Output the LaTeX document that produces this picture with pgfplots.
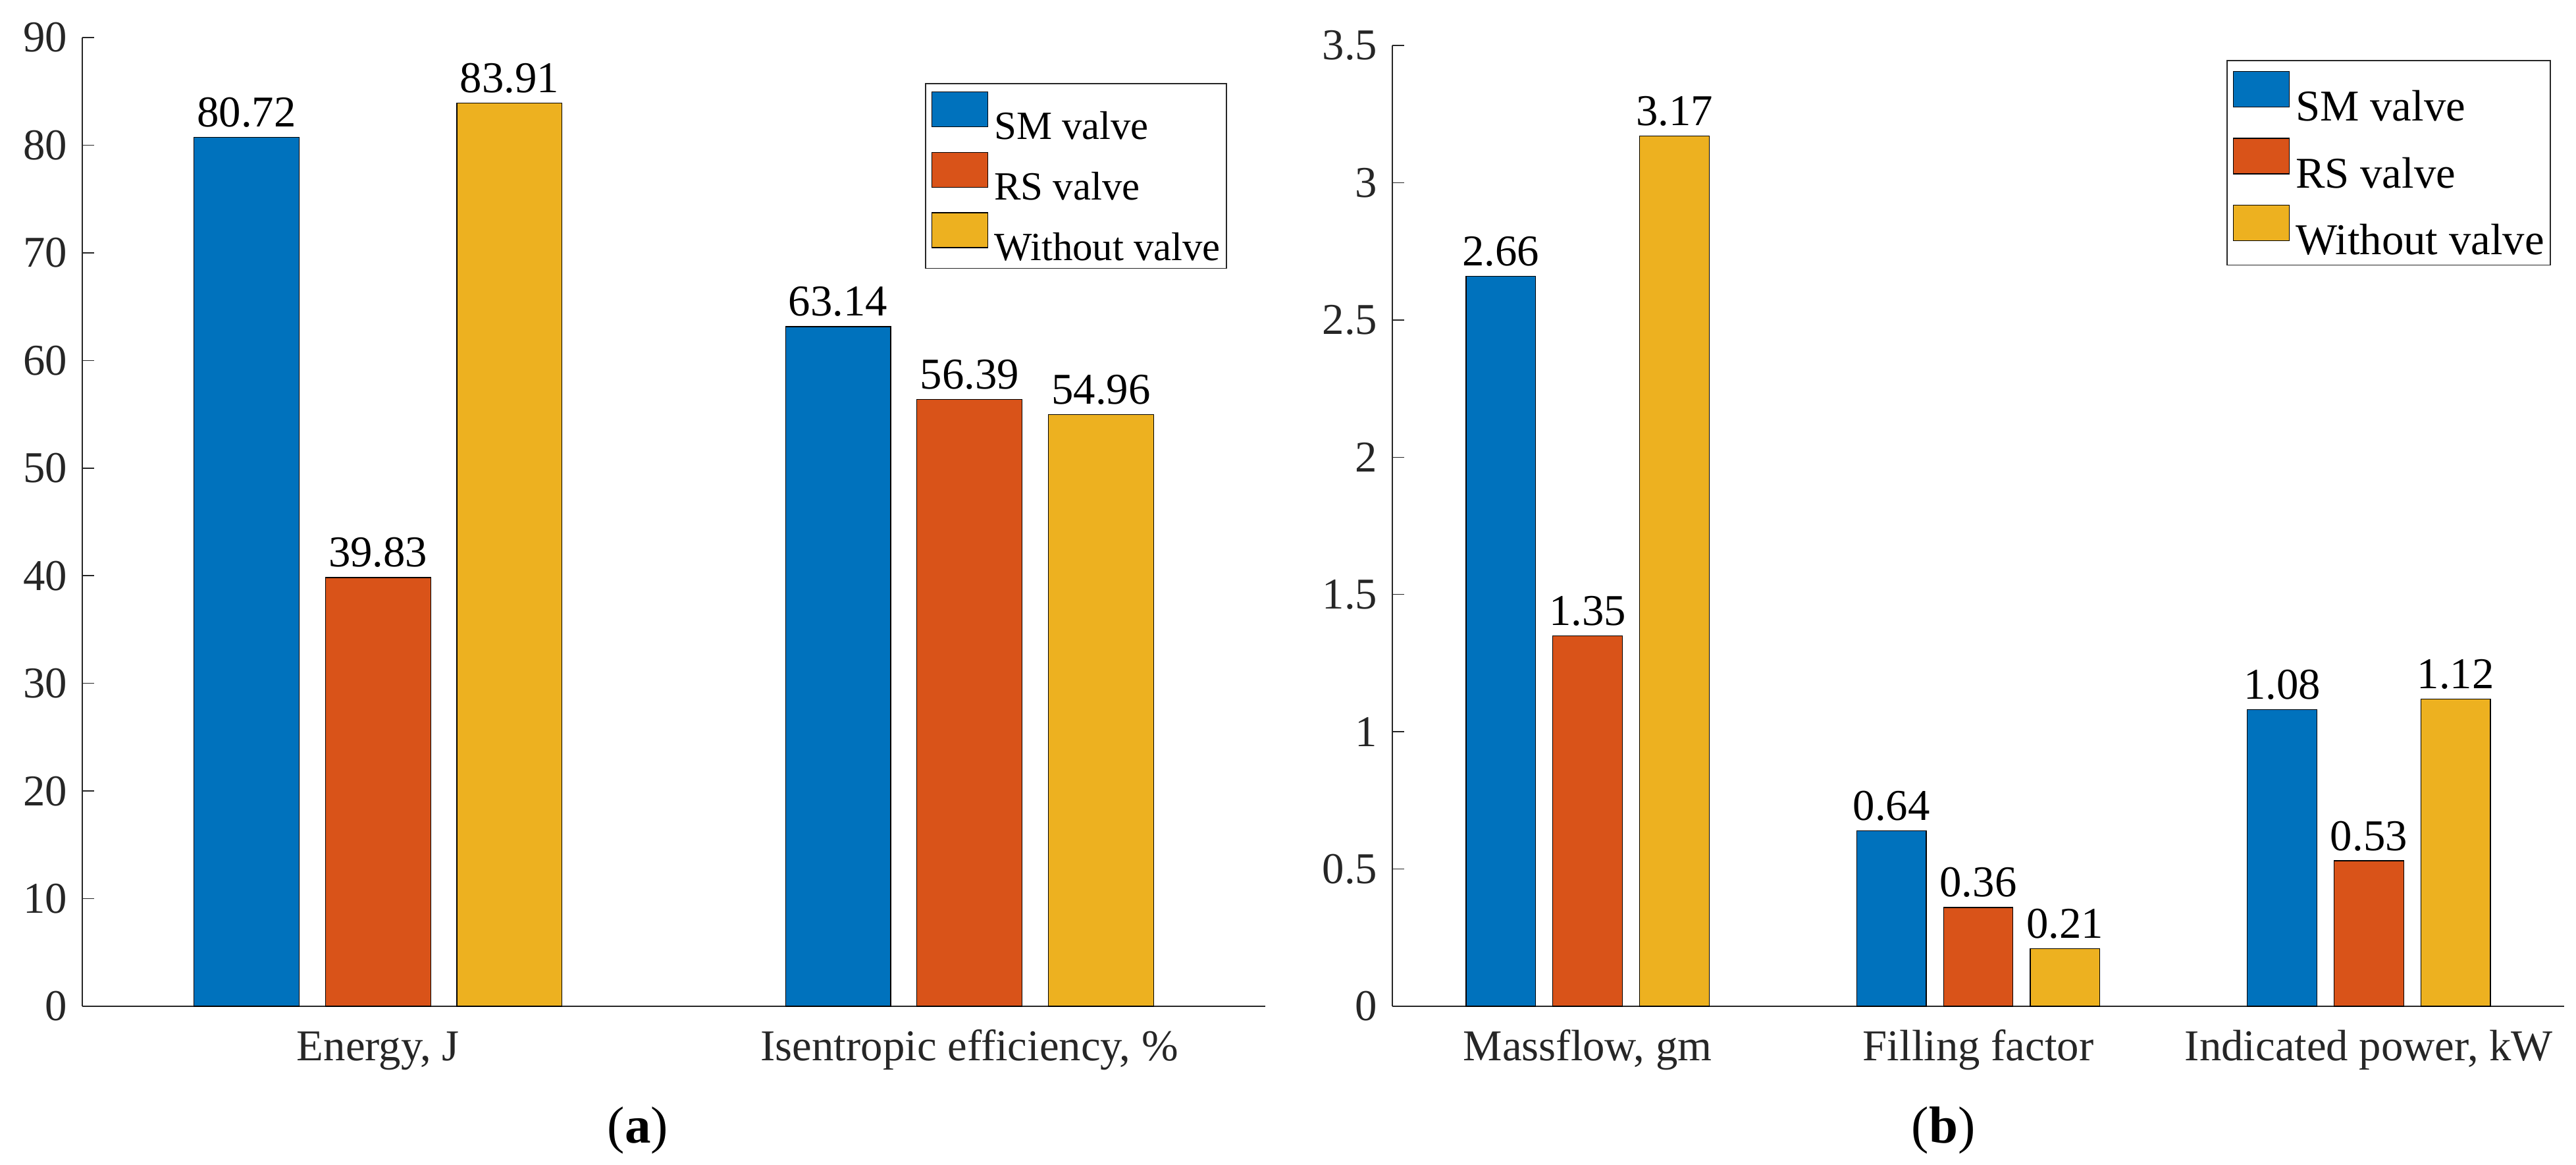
\documentclass[border=0pt]{standalone}
\usepackage{fontspec}
\setmainfont{Liberation Serif}
\usepackage{pgfplots}
\pgfplotsset{compat=1.18}
\definecolor{cA}{HTML}{0072BD}
\definecolor{cB}{HTML}{D95319}
\definecolor{cC}{HTML}{EDB120}
\definecolor{ax}{HTML}{262626}
\newcommand\fs{\fontsize{19}{23}\selectfont}
\pgfplotsset{
 mybar/.style={
  scale only axis, anchor=south west,
  axis x line=bottom, axis y line=left,
  axis line style={-, draw=ax, line width=0.15mm},
  ybar, bar width=0.178, ymin=0,
  xtick={1,2,3}, xtick style={draw=none},
  ytick style={draw=ax, line width=0.15mm}, tick align=inside, major tick length=1.8mm,
  tick label style={font=\fs, text=ax},
  xticklabel style={anchor=base, yshift=-8.2mm},
  yticklabel={\pgfmathprintnumber[assume math mode=true]{\tick}},
  yticklabel style={anchor=east, inner sep=0pt, xshift=-2.2mm},
  /pgf/number format/assume math mode=true,
  nodes near coords={\pgfmathprintnumber[assume math mode=true,fixed,fixed zerofill,precision=2]{\pgfplotspointmeta}},
  every node near coord/.append style={font=\fs, text=black, anchor=south, inner sep=0pt, yshift=1.45mm},
  every axis plot/.append style={draw=black, line width=0.12mm},
  legend cell align=left,
  clip=false,
 },
 sqL/.style={legend image code/.code={\draw[##1, line width=0.15mm] (0mm,-0.2mm) rectangle (8.5mm,5.1mm);}},
 sqR/.style={legend image code/.code={\draw[##1, line width=0.15mm] (0mm,-0.2mm) rectangle (8.5mm,5.2mm);}},
}
\begin{document}
\begin{tikzpicture}
\path[use as bounding box] (0,0) rectangle (391.3mm,176.8mm);
% (a)
\begin{axis}[mybar,
  at={(12.5mm,24.0mm)}, width=179.7mm, height=147.1mm,
  xmin=0.5, xmax=2.5, ymax=90, ytick={0,10,...,90},
  xticklabels={Energy{,} J, Isentropic efficiency{,} \%},
  legend style={at={(0.7123,0.9531)}, anchor=north west, draw=ax, line width=0.15mm,
     inner xsep=0.9mm, inner ysep=1.2mm, row sep=1.9mm, column sep=0.9mm,
     nodes={inner sep=0pt, text depth=0pt}, font=\fontsize{17.3}{20}\selectfont},
]
\addplot[fill=cA, bar shift=-0.2222, sqL] coordinates {(1,80.72) (2,63.14)};
\addplot[fill=cB, bar shift=0, sqL] coordinates {(1,39.83) (2,56.39)};
\addplot[fill=cC, bar shift=0.2222, sqL] coordinates {(1,83.91) (2,54.96)};
\legend{SM valve, RS valve, Without valve}
\end{axis}
% (b)
\begin{axis}[mybar,
  at={(211.5mm,24.0mm)}, width=178.0mm, height=145.9mm,
  xmin=0.5, xmax=3.5, ymax=3.5, ytick={0,0.5,...,3.5},
  xticklabels={Massflow{,} gm, Filling factor, Indicated power{,} kW},
  legend style={at={(0.7118,0.9849)}, anchor=north west, draw=ax, line width=0.15mm,
     inner xsep=0.9mm, inner ysep=1.6mm, row sep=2.55mm, column sep=0.9mm,
     nodes={inner sep=0pt, text depth=0pt}, font=\fontsize{19}{22}\selectfont},
]
\addplot[fill=cA, bar shift=-0.2222, sqR] coordinates {(1,2.66) (2,0.64) (3,1.08)};
\addplot[fill=cB, bar shift=0, sqR] coordinates {(1,1.35) (2,0.36) (3,0.53)};
\addplot[fill=cC, bar shift=0.2222, sqR] coordinates {(1,3.17) (2,0.21) (3,1.12)};
\legend{SM valve, RS valve, Without valve}
\end{axis}
\node[anchor=base, font=\fontsize{22.5}{26}\selectfont] at (96.9mm,3.3mm) {(\textbf{a})};
\node[anchor=base, font=\fontsize{22.5}{26}\selectfont] at (295.2mm,3.3mm) {(\textbf{b})};
\end{tikzpicture}
\end{document}
